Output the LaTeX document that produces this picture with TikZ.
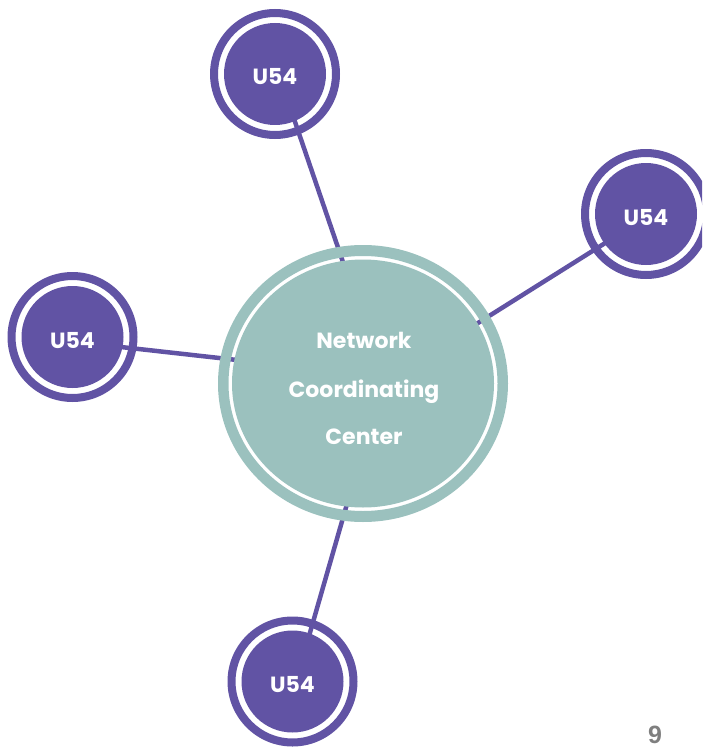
\documentclass[tikz,border=0pt]{standalone}
\usepackage{fontspec}
\usetikzlibrary{shapes.geometric}
\newfontfamily\popfont{Poppins}
\newfontfamily\arialfont{Liberation Sans}
\definecolor{uviolet}{RGB}{97,83,164}
\definecolor{nteal}{RGB}{155,193,190}
\definecolor{pgrey}{RGB}{127,127,127}
\tikzset{
  link/.style={draw=uviolet,line width=4.5pt},
  satring/.style={fill=uviolet,even odd rule},
  satdisc/.style={circle,fill=uviolet,minimum size=102pt,inner sep=0pt,draw=none},
  sattext/.style={anchor=base,text=white,font=\popfont\bfseries\fontsize{22}{26}\selectfont},
  ncctext/.style={anchor=base,text=white,font=\popfont\bfseries\fontsize{22}{26}\selectfont},
}
\begin{document}
\begin{tikzpicture}[x=1pt,y=-1pt]
\useasboundingbox (0,0) rectangle (702,749);
\clip (0,0) rectangle (702,749);
% centers
\coordinate (cN) at (363,383.5);
\coordinate (cT) at (275,74);
\coordinate (cL) at (72.5,337);
\coordinate (cR) at (646,214);
\coordinate (cB) at (292.5,681.5);
% link end points
\coordinate (pT1) at (293,116); \coordinate (pT2) at (345,268);
\coordinate (pR1) at (610,240); \coordinate (pR2) at (470,328);
\coordinate (pL1) at (112,346); \coordinate (pL2) at (246,361);
\coordinate (pB1) at (307,643); \coordinate (pB2) at (349,497);
% connectors (behind)
\draw[link] (pT1) -- (pT2);
\draw[link] (pR1) -- (pR2);
\draw[link] (pL1) -- (pL2);
\draw[link] (pB1) -- (pB2);
% central node
\fill[nteal,even odd rule] (cN) ellipse [x radius=145,y radius=138.5] (cN) ellipse [x radius=134.5,y radius=127.5];
\node[ellipse,fill=nteal,minimum width=262pt,minimum height=248pt,inner sep=0pt] (ncc) at (cN) {};
\node[ncctext] (n1) at (364,348) {Network};
\node[ncctext] (n2) at (364,397) {Coordinating};
\node[ncctext] (n3) at (364,444) {Center};
% satellites
\foreach \c/\n in {cT/sT,cL/sL,cR/sR,cB/sB}{
  \fill[satring] (\c) circle (65) (\c) circle (57);
  \node[satdisc] (\n) at (\c) {};
  \node[sattext] (\n t) at ([yshift=-11pt]\c) {U54};
}
% page number
\node[anchor=base,text=pgrey,font=\arialfont\bfseries\fontsize{25}{30}\selectfont] (pg) at (655,743) {9};
\end{tikzpicture}
\end{document}
